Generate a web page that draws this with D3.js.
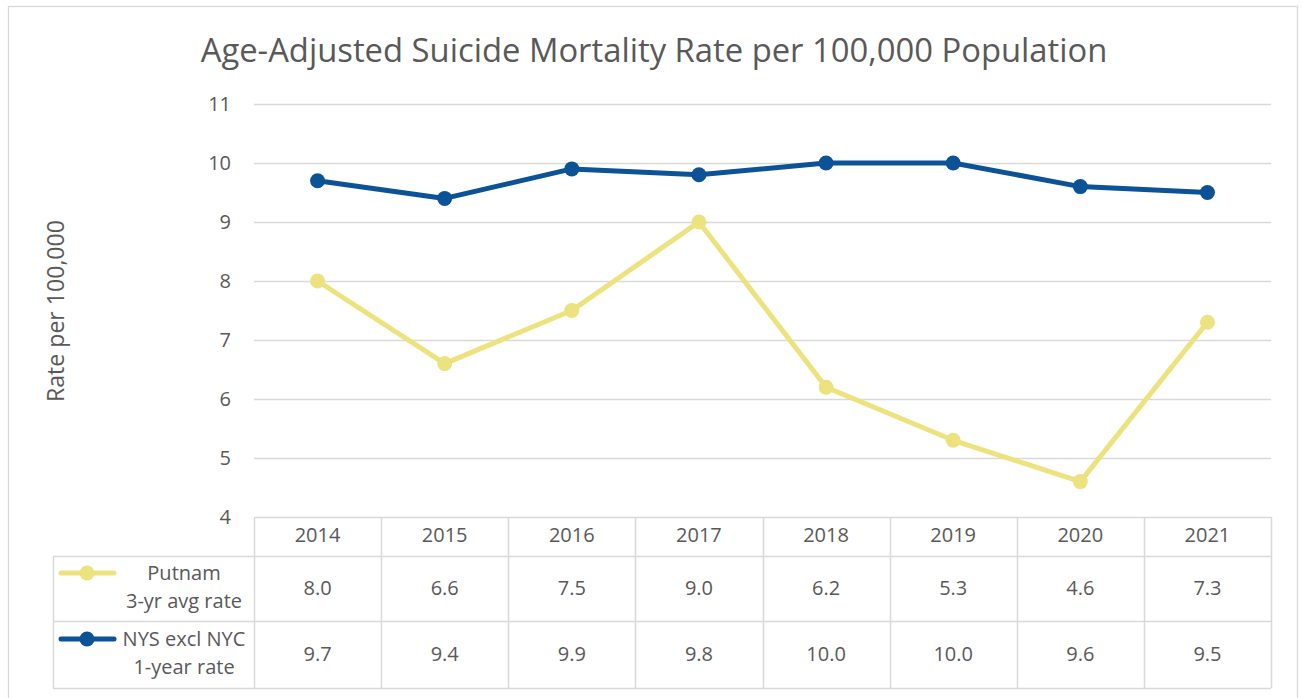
<!DOCTYPE html>
<html>
<head>
<meta charset="utf-8">
<script src="https://cdn.jsdelivr.net/npm/d3@7"></script>
<style>
  body { margin: 0; background: #fff; }
  svg text { font-family: "Open Sans", "Noto Sans", sans-serif; fill: #595959; }
</style>
</head>
<body>
<div id="chart"></div>
<script>
const WIDTH = 1301;
const HEIGHT = 698;

const years = ['2014', '2015', '2016', '2017', '2018', '2019', '2020', '2021'];
const putnamRates = [8.0, 6.6, 7.5, 9.0, 6.2, 5.3, 4.6, 7.3];
const nysRates = [9.7, 9.4, 9.9, 9.8, 10.0, 10.0, 9.6, 9.5];
const yTicks = [4, 5, 6, 7, 8, 9, 10, 11];

const series = [
  { name: ['Putnam', '3-yr avg rate'], values: putnamRates, color: '#ece27e' },
  { name: ['NYS excl NYC', '1-year rate'], values: nysRates, color: '#0b5297' }
];

const GRID = '#d9d9d9';
const plot = { left: 254, right: 1271, top: 104, bottom: 517 };
const rowEdges = [517, 556, 621, 688];
const legendLeft = 53;

const xScale = d3.scaleBand()
  .domain(years)
  .range([plot.left, plot.right]);

const yScale = d3.scaleLinear()
  .domain([4, 11])
  .range([plot.bottom, plot.top]);

const svg = d3.select('#chart')
  .append('svg')
  .attr('width', WIDTH)
  .attr('height', HEIGHT);

svg.append('rect')
  .attr('width', WIDTH)
  .attr('height', HEIGHT)
  .attr('fill', '#fff');

// chart border
svg.append('rect')
  .attr('x', 8.5)
  .attr('y', 6.5)
  .attr('width', 1289)
  .attr('height', 720)
  .attr('fill', 'none')
  .attr('stroke', GRID)
  .attr('stroke-width', 1.3);

// squeeze a text to the width measured on the reference
const fitWidth = (sel, target) => {
  const w = sel.node().getComputedTextLength();
  const size = parseFloat(sel.style('font-size'));
  sel.style('font-size', (size * target / w) + 'px');
};

const title = svg.append('text')
  .attr('x', 654)
  .attr('y', 62)
  .attr('text-anchor', 'middle')
  .style('font-size', '29px')
  .text('Age-Adjusted Suicide Mortality Rate per 100,000 Population');
fitWidth(title, 907);

// gridlines
svg.append('g')
  .selectAll('line')
  .data(yTicks.filter(t => t > 4))
  .enter()
  .append('line')
  .attr('x1', plot.left)
  .attr('x2', plot.right)
  .attr('y1', d => Math.round(yScale(d)) + 0.5)
  .attr('y2', d => Math.round(yScale(d)) + 0.5)
  .attr('stroke', GRID)
  .attr('stroke-width', 1.5);

svg.append('g')
  .selectAll('text')
  .data(yTicks)
  .enter()
  .append('text')
  .attr('x', 231)
  .attr('y', d => yScale(d) + 7)
  .attr('text-anchor', 'end')
  .style('font-size', '20px')
  .text(d => d);

const yTitle = svg.append('text')
  .attr('transform', 'translate(64, 311) rotate(-90)')
  .attr('text-anchor', 'middle')
  .style('font-size', '20px')
  .text('Rate per 100,000');
fitWidth(yTitle, 182);

// data table grid
const table = svg.append('g')
  .attr('stroke', GRID)
  .attr('stroke-width', 1.5);

rowEdges.forEach((y, i) => {
  table.append('line')
    .attr('x1', i === 0 ? plot.left : legendLeft)
    .attr('x2', plot.right)
    .attr('y1', y + 0.5)
    .attr('y2', y + 0.5);
});

const colEdges = years.map(d => xScale(d)).concat([plot.right]);
colEdges.forEach(x => {
  table.append('line')
    .attr('x1', Math.round(x) + 0.5)
    .attr('x2', Math.round(x) + 0.5)
    .attr('y1', rowEdges[0])
    .attr('y2', rowEdges[3]);
});

table.append('line')
  .attr('x1', legendLeft + 0.5)
  .attr('x2', legendLeft + 0.5)
  .attr('y1', rowEdges[1])
  .attr('y2', rowEdges[3]);

svg.append('g')
  .selectAll('text')
  .data(years)
  .enter()
  .append('text')
  .attr('x', d => xScale(d) + xScale.bandwidth() / 2)
  .attr('y', 542)
  .attr('text-anchor', 'middle')
  .style('font-size', '20px')
  .text(d => d);

const line = d3.line()
  .x((d, i) => xScale(years[i]) + xScale.bandwidth() / 2)
  .y(d => yScale(d));

series.forEach((s, si) => {
  const rowMid = (rowEdges[si + 1] + rowEdges[si + 2]) / 2;

  svg.append('path')
    .datum(s.values)
    .attr('d', line)
    .attr('fill', 'none')
    .attr('stroke', s.color)
    .attr('stroke-width', 5)
    .attr('stroke-linejoin', 'round');

  svg.append('g')
    .selectAll('circle')
    .data(s.values)
    .enter()
    .append('circle')
    .attr('cx', (d, i) => xScale(years[i]) + xScale.bandwidth() / 2)
    .attr('cy', d => yScale(d))
    .attr('r', 7.5)
    .attr('fill', s.color);

  // row values
  svg.append('g')
    .selectAll('text')
    .data(s.values)
    .enter()
    .append('text')
    .attr('x', (d, i) => xScale(years[i]) + xScale.bandwidth() / 2)
    .attr('y', rowMid + 6.5)
    .attr('text-anchor', 'middle')
    .style('font-size', '20px')
    .text(d => d.toFixed(1));

  // legend key
  const keyY = rowMid - 15.5;
  svg.append('line')
    .attr('x1', 61)
    .attr('x2', 114)
    .attr('y1', keyY)
    .attr('y2', keyY)
    .attr('stroke', s.color)
    .attr('stroke-width', 5)
    .attr('stroke-linecap', 'round');
  svg.append('circle')
    .attr('cx', 87)
    .attr('cy', keyY)
    .attr('r', 7.5)
    .attr('fill', s.color);

  svg.append('g')
    .selectAll('text')
    .data(s.name)
    .enter()
    .append('text')
    .attr('x', 184)
    .attr('y', (d, i) => rowMid - 8.5 + i * 28)
    .attr('text-anchor', 'middle')
    .style('font-size', '20px')
    .text(d => d);
});
</script>
</body>
</html>
